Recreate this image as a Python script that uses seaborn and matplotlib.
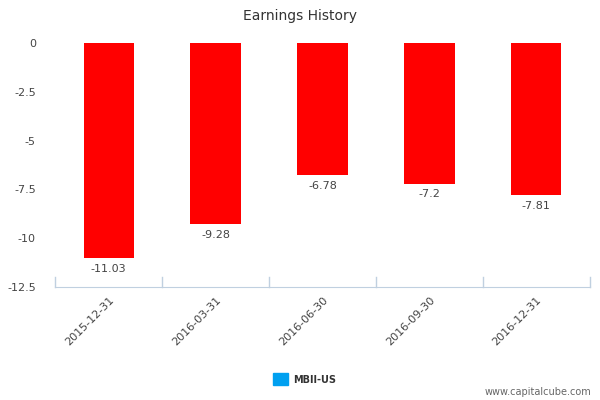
import matplotlib
matplotlib.use("Agg")
import matplotlib.pyplot as plt
import seaborn as sns
import pandas as pd

dates = ["2015-12-31", "2016-03-31", "2016-06-30", "2016-09-30", "2016-12-31"]
earnings = [-11.03, -9.28, -6.78, -7.2, -7.81]
labels = ["-11.03", "-9.28", "-6.78", "-7.2", "-7.81"]
yticks = [0, -2.5, -5, -7.5, -10, -12.5]
ytick_labels = ["0", "-2.5", "-5", "-7.5", "-10", "-12.5"]

df = pd.DataFrame({"date": dates, "eps": earnings})

fig = plt.figure(figsize=(6, 4), dpi=100)
ax = fig.add_axes([0.092, 0.2825, 0.891, 0.61])
sns.barplot(data=df, x="date", y="eps", color="#ff0000", saturation=1, width=0.47, ax=ax)

ax.set_ylim(-12.5, 0)
ax.set_xlim(-0.5, len(dates) - 0.5)
ax.set_yticks(yticks)
ax.set_yticklabels(ytick_labels, fontsize=8, color="#444444")
ax.tick_params(axis="y", length=0, pad=14)
ax.set_xticks(range(len(dates)))
ax.set_xticklabels(dates, rotation=45, ha="right", rotation_mode="anchor", fontsize=8, color="#444444")
ax.tick_params(axis="x", length=0, pad=6)
for b in [i + 0.5 for i in range(-1, len(dates))]:
    ax.plot([b, b], [-12.5, -12.0], color="#c0d0e0", lw=1, clip_on=False)
ax.set_xlabel("")
ax.set_ylabel("")
for s in ["top", "right", "left"]:
    ax.spines[s].set_visible(False)
ax.spines["bottom"].set_color("#c0d0e0")

for i, (v, t) in enumerate(zip(earnings, labels)):
    ax.text(i, v - 0.3, t, ha="center", va="top", fontsize=8, color="#444444")

fig.text(0.5, 0.96, "Earnings History", ha="center", va="center", fontsize=10, color="#333333")
fig.patches.append(plt.Rectangle((0.455, 0.037), 0.025, 0.03, transform=fig.transFigure,
                                 color="#00a0f0", figure=fig))
fig.text(0.488, 0.05, "MBII-US", ha="left", va="center", fontsize=7, fontweight="bold", color="#333333")
fig.text(0.985, 0.02, "www.capitalcube.com", ha="right", va="center", fontsize=7, color="#666666")

fig.savefig("out.png", dpi=100)
